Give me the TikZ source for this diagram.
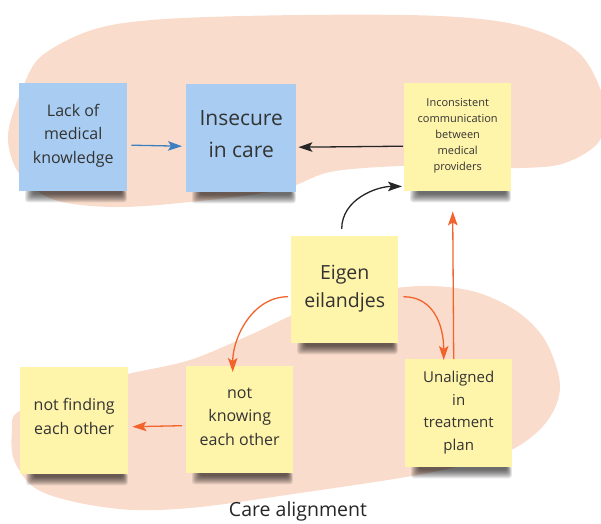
\documentclass[tikz,border=0pt]{standalone}
\usepackage{fontspec}
\setmainfont{Open Sans}
\usetikzlibrary{arrows.meta}

\definecolor{peach}{HTML}{FADCCC}
\definecolor{noteblue}{HTML}{A9CDF2}
\definecolor{noteyellow}{HTML}{FEF4AA}
\definecolor{inkgray}{HTML}{333333}
\definecolor{arrorange}{HTML}{F2642C}
\definecolor{arrblue}{HTML}{3C80C2}

\pgfdeclarelayer{background}
\pgfsetlayers{background,main}

\tikzset{
  sticky/.style={anchor=north west, minimum width=107pt, minimum height=107pt,
    inner sep=0pt, text=inkgray},
  bluenote/.style={sticky, fill=noteblue},
  yellownote/.style={sticky, fill=noteyellow},
  link/.style={line width=1.3pt, -{Stealth[length=14pt,width=9.5pt,inset=3pt]}},
  blacklink/.style={link, draw=black!85},
  orangelink/.style={link, draw=arrorange},
  bluelink/.style={link, draw=arrblue},
}

% centred lines of a note, lifted by #1 while keeping the box size
\newcommand\notelines[2]{\raisebox{#1}[\height][\depth]{\begin{tabular}{@{}c@{}}#2\end{tabular}}}

% soft shadow along the lower edge of a sticky note
\newcommand\stickyshadow[1]{%
  \foreach \d in {1,...,9}{%
    \fill[black, opacity=0.09, rounded corners=3pt]
      ([xshift={5pt+\d*1pt}, yshift=2pt]#1.south west) rectangle
      ([xshift={-\d*0.6pt}, yshift={-(12-\d)*1pt}]#1.south east);
  }%
}

\begin{document}
\begin{tikzpicture}[x=1pt, y=-1pt]
\useasboundingbox (0,0) rectangle (601,523);

% background clusters
\begin{pgfonlayer}{background}
\fill[peach] plot[smooth cycle, tension=0.55] coordinates {
  (25,82) (44,54) (95,29) (165,19) (300,15) (440,16) (522,26) (578,52)
  (603,98) (600,140) (565,163) (520,168) (460,166) (400,166) (330,172)
  (280,190) (190,202) (115,207) (55,200) (20,175) (8,135)};
\fill[peach] plot[smooth cycle, tension=0.55] coordinates {
  (18,412) (70,390) (128,374) (190,360) (250,335) (300,312) (360,294)
  (420,286) (472,291) (515,310) (545,340) (560,385) (548,420) (515,448)
  (460,466) (400,478) (300,493) (200,507) (133,510) (75,502) (35,488)
  (14,460) (12,430)};
\end{pgfonlayer}

% sticky notes
\node[bluenote, minimum width=108pt, minimum height=108pt, font=\fontsize{16}{23.5}\selectfont]
  (lack) at (19,83) {\notelines{2pt}{Lack of\\medical\\knowledge}};
\node[bluenote, minimum width=110pt, minimum height=108pt, font=\fontsize{21}{32}\selectfont]
  (insecure) at (186,84) {\notelines{3.5pt}{Insecure\\in care}};
\node[yellownote, minimum height=108pt, font=\fontsize{11}{16}\selectfont]
  (incons) at (404,83) {\notelines{1.5pt}{Inconsistent\\communication\\between\\medical\\providers}};
\node[yellownote, font=\fontsize{19.5}{28}\selectfont]
  (eigen) at (291,236) {\notelines{2pt}{Eigen\\eilandjes}};
\node[yellownote, minimum width=108pt, font=\fontsize{16}{24}\selectfont]
  (finding) at (20,367) {\notelines{3pt}{not finding\\each other}};
\node[yellownote, font=\fontsize{16}{23.5}\selectfont]
  (knowing) at (186,366) {\notelines{2.5pt}{not\\knowing\\each other}};
\node[yellownote, minimum height=108pt, font=\fontsize{15}{22.5}\selectfont]
  (unaligned) at (405,359) {\notelines{1pt}{Unaligned\\in\\treatment\\plan}};

\begin{pgfonlayer}{background}
\stickyshadow{lack}
\stickyshadow{insecure}
\stickyshadow{incons}
\stickyshadow{eigen}
\stickyshadow{finding}
\stickyshadow{knowing}
\stickyshadow{unaligned}
\end{pgfonlayer}

% connectors
\draw[bluelink] ([xshift=4pt,yshift=-8pt]lack.east) -- ([xshift=-4pt,yshift=-8pt]insecure.west);
\draw[blacklink] ([xshift=-1pt,yshift=-9pt]incons.west) -- ([xshift=2pt,yshift=-9pt]insecure.east);
\draw[blacklink] ([xshift=-3pt,yshift=7pt]eigen.north)
  .. controls +(0,-30) and +(-25,0) .. ([xshift=-2pt,yshift=5pt]incons.south west);
\draw[orangelink] ([xshift=-5pt]unaligned.north) -- ([xshift=-5pt,yshift=-20pt]incons.south);
\draw[orangelink] ([xshift=-3pt,yshift=-7pt]eigen.west)
  .. controls +(-35,0) and +(0,-35) .. ([xshift=-7pt,yshift=-6pt]knowing.north);
\draw[orangelink] ([xshift=5pt,yshift=-7pt]eigen.east)
  .. controls +(30,0) and +(0,-35) .. ([xshift=-15pt,yshift=-1pt]unaligned.north);
\draw[orangelink] ([xshift=-4pt,yshift=-6pt]knowing.west) -- ([xshift=4pt,yshift=-6pt]finding.east);

% caption
\node[text=black!85, font=\fontsize{19.5}{22}\selectfont] (caption) at (298,511) {Care alignment};
\end{tikzpicture}
\end{document}
